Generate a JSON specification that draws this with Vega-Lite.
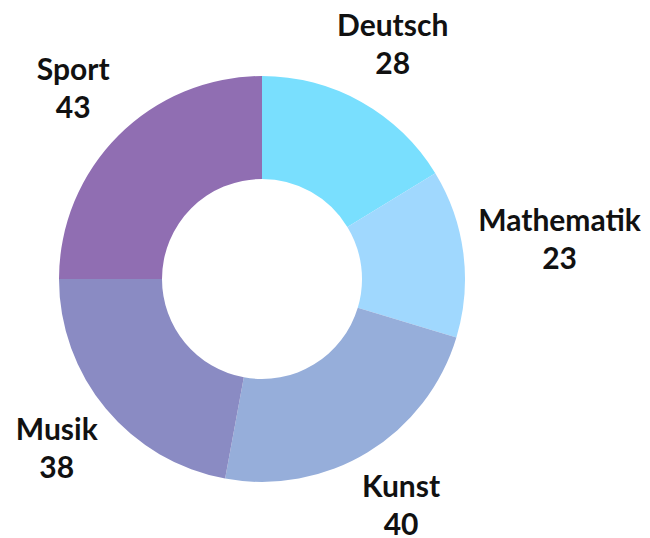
{
  "$schema": "https://vega.github.io/schema/vega-lite/v6.json",
  "width": 524,
  "height": 518,
  "autosize": {"type": "none"},
  "padding": {"left": 0, "top": 20, "right": 126, "bottom": 0},
  "background": "white",
  "view": {"stroke": null},
  "data": {
    "values": [
      {"subject": "Deutsch", "count": 28, "i": 1},
      {"subject": "Mathematik", "count": 23, "i": 2},
      {"subject": "Kunst", "count": 40, "i": 3},
      {"subject": "Musik", "count": 38, "i": 4},
      {"subject": "Sport", "count": 43, "i": 5}
    ]
  },
  "transform": [
    {"stack": "count", "sort": [{"field": "i"}], "groupby": [], "as": ["s0", "s1"]},
    {"calculate": "(datum.s0 + datum.s1) / 2", "as": "mid"},
    {"calculate": "datum.subject == 'Mathematik' ? 300 : 267", "as": "r"}
  ],
  "layer": [
    {
      "mark": {"type": "arc", "innerRadius": 100, "outerRadius": 203},
      "encoding": {
        "theta": {"field": "s0", "type": "quantitative", "stack": null, "scale": {"domain": [0, 172], "range": [0, 6.283185307179586]}},
        "theta2": {"field": "s1"},
        "color": {
          "field": "subject",
          "type": "nominal",
          "legend": null,
          "scale": {
            "domain": ["Deutsch", "Mathematik", "Kunst", "Musik", "Sport"],
            "range": ["#79DFFE", "#A0D8FE", "#96AEDA", "#8A8BC3", "#906EB2"]
          }
        }
      }
    },
    {
      "mark": {"type": "text", "dy": -19, "fontSize": 30, "font": "Lato", "fontWeight": "bold", "clip": false},
      "encoding": {
        "theta": {"field": "mid", "type": "quantitative", "stack": null},
        "radius": {"field": "r", "type": "quantitative", "scale": {"type": "linear", "domain": [0, 300], "range": [0, 300], "zero": true}},
        "text": {"field": "subject"},
        "color": {"value": "#111111"}
      }
    },
    {
      "mark": {"type": "text", "dy": 19, "fontSize": 30, "font": "Lato", "fontWeight": "bold", "clip": false},
      "encoding": {
        "theta": {"field": "mid", "type": "quantitative", "stack": null},
        "radius": {"field": "r", "type": "quantitative", "scale": {"type": "linear", "domain": [0, 300], "range": [0, 300], "zero": true}},
        "text": {"field": "count"},
        "color": {"value": "#111111"}
      }
    }
  ]
}
